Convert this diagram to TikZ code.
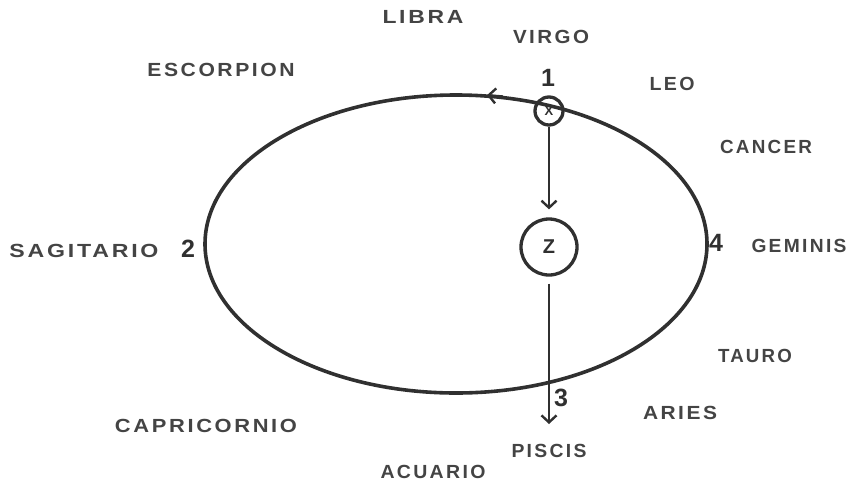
\documentclass[tikz,border=0pt]{standalone}
\usepackage{fontspec}
\usepackage{graphicx}
\setmainfont{Liberation Sans}
\newfontfamily\lblfont{Liberation Sans}[LetterSpace=12]
\newfontfamily\numfont{Liberation Sans}
\usetikzlibrary{arrows.meta}
\definecolor{ink}{HTML}{303030}
\definecolor{txt}{HTML}{444444}
\newcommand{\fitto}[2]{\resizebox{#1pt}{\height}{#2}}
\tikzset{
  sign/.style={inner sep=0pt, text=txt, font=\lblfont\bfseries\fontsize{19}{19}\selectfont},
  num/.style={inner sep=0pt, text=ink, font=\numfont\bfseries\fontsize{25}{25}\selectfont},
  orbit/.style={draw=ink, line width=3.6pt},
  body/.style={circle, draw=ink, line width=3.3pt, inner sep=0pt, text=ink},
  fall/.style={draw=ink, line width=2.4pt, -{Straight Barb[length=7pt,width=15pt,line width=2.4pt]}},
}
\begin{document}
\begin{tikzpicture}[x=1pt,y=-1pt]
\useasboundingbox (0,0) rectangle (846,488);
% orbit
\draw[orbit] (456,244) ellipse [x radius=251, y radius=149];
\coordinate (ta) at (503,96.5);
\coordinate (tb) at (487,95.2);
\draw[fall] (ta) -- (tb);
% bodies
\node[body, minimum size=28pt, font=\numfont\bfseries\fontsize{13}{13}\selectfont] (X) at (549,111) {X};
\node[body, minimum size=56pt, font=\numfont\bfseries\fontsize{20}{20}\selectfont] (Z) at (549,247) {Z};
\coordinate (end) at (549,424);
\draw[fall, shorten >=8pt] (X) -- (Z);
\draw[fall, shorten <=7pt] (Z) -- (end);
% numbers
\node[num] (n1) at (548,78) {1};
\node[num] (n2) at (188,249) {2};
\node[num] (n3) at (561,398) {3};
\node[num] (n4) at (716,243) {4};
% signs
\node[sign] (libra) at (423,17) {\fitto{81}{LIBRA}};
\node[sign] (virgo) at (551,37) {\fitto{76}{VIRGO}};
\node[sign] (escorpion) at (221,70) {\fitto{147}{ESCORPION}};
\node[sign] (leo) at (672,84) {\fitto{45}{LEO}};
\node[sign] (cancer) at (766,147) {\fitto{92}{CANCER}};
\node[sign] (sagitario) at (84,251) {\fitto{149}{SAGITARIO}};
\node[sign] (geminis) at (799,246) {\fitto{95}{GEMINIS}};
\node[sign] (tauro) at (755,356) {\fitto{74}{TAURO}};
\node[sign] (aries) at (680,413) {\fitto{74}{ARIES}};
\node[sign] (piscis) at (549,451) {\fitto{75}{PISCIS}};
\node[sign] (capricornio) at (206,426) {\fitto{182}{CAPRICORNIO}};
\node[sign] (acuario) at (433,472) {\fitto{105}{ACUARIO}};
\end{tikzpicture}
\end{document}
